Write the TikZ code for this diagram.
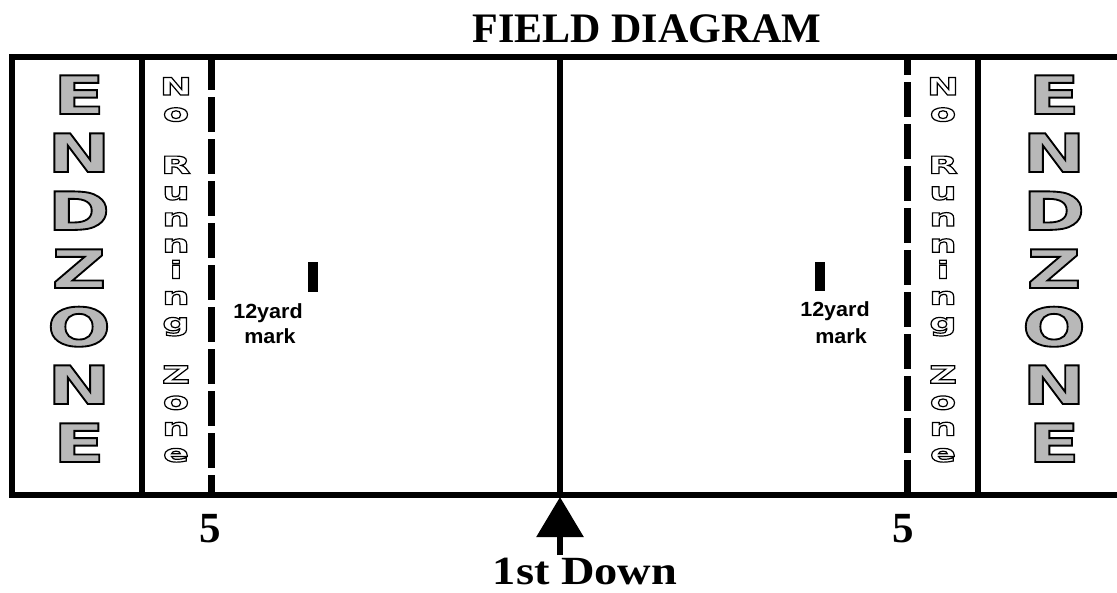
\documentclass[tikz,border=0pt]{standalone}
\usepackage{fontspec}
\setmainfont{Liberation Serif}
\newfontfamily\ezfont{DejaVu Sans Bold}[FakeStretch=1.42, FakeBold=3.5]
\newfontfamily\nrzfont{DejaVu Sans Bold}[FakeStretch=1.6, FakeBold=5]
\newfontfamily\markfont{Liberation Sans Bold}[FakeStretch=1.05]
\newfontfamily\stretchserif{Liberation Serif Bold}[FakeStretch=1.16]
\usetikzlibrary{arrows.meta}
\newcommand\outgray[1]{\special{pdf:bcolor [0.72] [0]}#1\special{pdf:ecolor}}
\newcommand\outwhite[1]{\special{pdf:bcolor [1] [0]}#1\special{pdf:ecolor}}
\begin{document}
\begin{tikzpicture}[x=1pt,y=-1pt,
  fieldline/.style={line width=6pt},
  dashline/.style={line width=7pt, dash pattern=on 35pt off 7pt},
  ezletter/.style={font=\ezfont\fontsize{53pt}{60pt}\selectfont, anchor=base, inner sep=0pt},
  nrzletter/.style={font=\nrzfont\fontsize{24pt}{30pt}\selectfont, anchor=base, inner sep=0pt},
  marktext/.style={font=\markfont\fontsize{20.5pt}{24pt}\selectfont, anchor=base, inner sep=0pt},
  serifbig/.style={font=\bfseries\fontsize{43pt}{48pt}\selectfont, anchor=base, inner sep=0pt},
  yardbar/.style={fill=black, draw=none}]
\useasboundingbox (0,0) rectangle (1117,592);
% field outline
\coordinate (TR) at (1117,57);
\coordinate (TL) at (12,57);
\coordinate (BL) at (12,495);
\coordinate (BR) at (1117,495);
\draw[fieldline] (TR) -- (TL) -- (BL) -- (BR);
% solid goal lines
\coordinate (gLt) at (142,57); \coordinate (gLb) at (142,495);
\coordinate (gRt) at (978,57); \coordinate (gRb) at (978,495);
\draw[fieldline] (gLt) -- (gLb);
\draw[fieldline] (gRt) -- (gRb);
% center line
\coordinate (cT) at (560,57); \coordinate (cB) at (560,495);
\draw[fieldline] (cT) -- (cB);
% dashed 5-yard lines
\coordinate (dLt) at (211,57); \coordinate (dLb) at (211,495);
\coordinate (dRt) at (907,57); \coordinate (dRb) at (907,495);
\draw[dashline, dash phase=2pt] (dLt) -- (dLb);
\draw[dashline, dash phase=17pt] (dRt) -- (dRb);
% end zones
\foreach \l [count=\i from 0] in {E,N,D,Z,O,N,E} {
  \node[ezletter] (ezL\i) at (79,{114+58*\i}) {\outgray{\l}};
  \node[ezletter] (ezR\i) at (1054,{114+58*\i}) {\outgray{\l}};
}
% no running zones
\foreach \l/\k in {N/0,o/1,R/3,u/4,n/5,n/6,i/7,n/8,g/9,Z/11,o/12,n/13,e/14} {
  \node[nrzletter] (nrzL\k) at (176,{95+26.2*\k}) {\outwhite{\l}};
  \node[nrzletter] (nrzR\k) at (943,{95+26.2*\k}) {\outwhite{\l}};
}
% 12 yard marks
\node[yardbar, minimum width=10pt, minimum height=30pt, inner sep=0pt] (barL) at (313,277) {};
\node[yardbar, minimum width=10pt, minimum height=29pt, inner sep=0pt] (barR) at (820,276) {};
\node[marktext] (ydL) at (268,318) {12yard};
\node[marktext] (mkL) at (270,343) {mark};
\node[marktext] (ydR) at (835,316) {12yard};
\node[marktext] (mkR) at (841,343) {mark};
% title
\node[serifbig, font=\bfseries\fontsize{42pt}{48pt}\selectfont] (title) at (647,42) {FIELD DIAGRAM};
% 5 labels
\node[serifbig] (fiveL) at (210,542) {5};
\node[serifbig] (fiveR) at (903,542) {5};
% first down
\node[font=\stretchserif\fontsize{40pt}{44pt}\selectfont, anchor=base, inner sep=0pt, text depth=0pt] (down) at (585,584) {1st Down};
\coordinate (arrowtip) at (560,497);
\coordinate (arrowfoot) at (560,555);
\draw[line width=6pt, -{Triangle[width=46pt,length=40pt]}] (arrowfoot) -- (arrowtip);
\end{tikzpicture}
\end{document}
